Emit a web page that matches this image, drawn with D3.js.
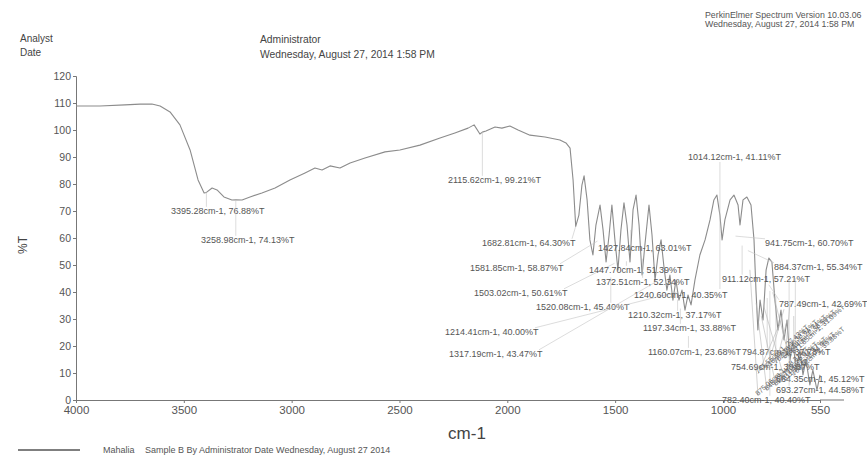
<!DOCTYPE html>
<html>
<head>
<meta charset="utf-8">
<script src="https://cdn.jsdelivr.net/npm/d3@7/dist/d3.min.js"></script>
<style>
  html, body { margin: 0; padding: 0; background: #fff; }
  svg { display: block; }
  text { font-family: "Liberation Sans", Arial, sans-serif; }
</style>
</head>
<body>
<svg id="chart" width="867" height="462"></svg>
<script>
// FTIR spectrum, wavenumber (cm-1) against transmittance (%T)
const wavenumber = [
  4000, 3889, 3773, 3703, 3648, 3610, 3564, 3518, 3471, 3434, 3406, 3395.28, 3369, 3346, 3314, 3277,
  3258.98, 3230, 3193, 3138, 3077, 3008, 2938, 2892, 2859, 2822, 2776, 2729, 2660, 2567, 2498, 2405,
  2312, 2243, 2182, 2154, 2127, 2115.62, 2099, 2057, 2025, 1988, 1950, 1895, 1825, 1756, 1728, 1709,
  1695, 1682.81, 1668, 1654, 1644, 1630, 1617, 1603, 1589, 1570, 1556, 1542, 1528, 1515, 1501, 1487,
  1473, 1459, 1445, 1431, 1417, 1403, 1389, 1375, 1362, 1343, 1329, 1315, 1301, 1287, 1273, 1260,
  1246, 1232, 1218, 1204, 1190, 1176, 1162, 1148, 1130, 1107, 1083, 1060, 1042, 1028, 1014.12, 1004,
  991, 967, 949, 930, 921, 907, 889, 870, 856, 847, 838, 828, 814, 800, 787, 773,
  759, 745, 731, 717, 703, 689, 675, 662, 643, 629, 615, 597, 583, 564, 550
];
const transmittance = [
  108.9, 108.9, 109.3, 109.6, 109.6, 108.9, 106.7, 101.9, 92.6, 81.5, 76.7, 76.88, 78.5, 77.8, 75.2, 74.1,
  74.13, 74.1, 75.2, 76.7, 78.5, 81.5, 84.1, 85.9, 85.2, 86.7, 85.9, 87.8, 89.6, 91.9, 92.6, 94.4,
  97.0, 98.9, 100.7, 101.9, 98.5, 99.21, 99.6, 101.1, 100.7, 101.5, 100.0, 98.1, 97.4, 96.3, 95.2, 93.3,
  81.5, 64.30, 68.5, 79.6, 83.0, 74.1, 59.3, 53.7, 64.8, 72.2, 63.0, 51.1, 61.1, 72.2, 59.3, 48.1,
  63.0, 73.0, 64.8, 51.1, 70.4, 75.9, 64.8, 46.3, 57.4, 72.2, 61.1, 44.4, 53.7, 59.3, 48.9, 40.7,
  46.3, 37.0, 44.4, 37.0, 40.7, 33.3, 38.9, 35.2, 44.4, 53.7, 59.3, 66.7, 74.1, 75.9, 68.5, 59.3,
  66.7, 74.1, 75.9, 72.2, 64.8, 74.1, 75.2, 72.2, 59.3, 40.7, 25.9, 37.0, 29.6, 48.1, 52.6, 51.1,
  37.0, 25.9, 33.3, 22.2, 29.6, 14.8, 22.2, 11.1, 18.5, 9.3, 14.8, 5.6, 11.1, 3.7, 9.3
];

// Peak table printed by the instrument software
const peakWn = [3395.28, 3258.98, 2115.62, 1682.81, 1581.85, 1503.02, 1520.08, 1214.41, 1317.19,
  1427.84, 1447.70, 1372.51, 1240.60, 1210.32, 1197.34, 1160.07, 1014.12, 941.75, 884.37, 911.12,
  787.49, 794.87, 754.69, 664.35, 693.27, 782.40];
const peakT = [76.88, 74.13, 99.21, 64.30, 58.87, 50.61, 45.40, 40.00, 43.47,
  63.01, 51.39, 52.34, 40.35, 37.17, 33.88, 23.68, 41.11, 60.70, 55.34, 57.21,
  42.69, 37.78, 38.37, 45.12, 44.58, 40.40];

// Dense, partly overlapping labels in the low-wavenumber cluster (drawn slanted)
const clusterWn = [875.06, 846.23, 822.71, 811.38, 769.02, 741.55, 716.90, 702.13, 688.44, 671.85];
const clusterT = [48.21, 36.02, 31.17, 34.95, 39.88, 27.43, 33.61, 29.74, 36.50, 31.09];

const yTicks = [0, 10, 20, 30, 40, 50, 60, 70, 80, 90, 100, 110, 120];
const xTicks = [4000, 3500, 3000, 2500, 2000, 1500, 1000, 550];

const headerLeft = ["Analyst", "Date"];
const headerMid = ["Administrator", "Wednesday, August 27, 2014 1:58 PM"];
const headerRight = ["PerkinElmer Spectrum Version 10.03.06", "Wednesday, August 27, 2014 1:58 PM"];
const legendName = "Mahalia";
const legendText = "Sample B By Administrator Date Wednesday, August 27 2014";

const svg = d3.select("#chart");
const x = d3.scaleLinear().domain([4000, 550]).range([76, 820]);
const y = d3.scaleLinear().domain([0, 120]).range([400, 76]);

const ink = "#555";

// Header block
svg.selectAll("text.hl").data(headerLeft).join("text")
  .attr("x", 20).attr("y", (d, i) => 42 + i * 14)
  .attr("font-size", 10).attr("fill", "#444").text(d => d);
svg.selectAll("text.hm").data(headerMid).join("text")
  .attr("x", 260).attr("y", (d, i) => 43 + i * 15)
  .attr("font-size", 10.3).attr("fill", "#444").text(d => d);
svg.selectAll("text.hr").data(headerRight).join("text")
  .attr("x", 705).attr("y", (d, i) => 18 + i * 8.5)
  .attr("font-size", 8.8).attr("fill", "#555").text(d => d);

// Axes
const yAxis = d3.axisLeft(y).tickValues(yTicks).tickSize(3).tickPadding(2);
const gy = svg.append("g").attr("transform", "translate(76,0)").call(yAxis);
gy.select(".domain").attr("stroke", "#777");
gy.selectAll(".tick line").attr("stroke", "#777");
gy.selectAll(".tick text").attr("font-size", 10.5).attr("fill", ink)
  .attr("font-family", "Liberation Sans, Arial, sans-serif");

const xAxis = d3.axisBottom(x).tickValues(xTicks).tickSize(3).tickPadding(3).tickFormat(d3.format("d"));
const gx = svg.append("g").attr("transform", "translate(0,400)").call(xAxis);
gx.select(".domain").attr("stroke", "#777");
gx.selectAll(".tick line").attr("stroke", "#777");
gx.selectAll(".tick text").attr("font-size", 11.5).attr("fill", ink)
  .attr("font-family", "Liberation Sans, Arial, sans-serif");
// baseline continues past the last labelled tick
svg.append("line").attr("x1", x(550)).attr("x2", x(550) + 24)
  .attr("y1", y(0)).attr("y2", y(0)).attr("stroke", "#777");

svg.append("text").attr("x", 467).attr("y", 439).attr("text-anchor", "middle")
  .attr("font-size", 17).attr("fill", "#444").text("cm-1");
svg.append("text").attr("transform", "translate(27,245) rotate(-90)")
  .attr("text-anchor", "middle").attr("font-size", 12).attr("fill", "#444").text("%T");

// Spectrum trace
const pts = wavenumber.map((w, i) => [w, transmittance[i]]);
svg.append("path").datum(pts)
  .attr("fill", "none").attr("stroke", "#8c8c8c").attr("stroke-width", 1.1)
  .attr("stroke-linejoin", "round")
  .attr("d", d3.line().x(d => x(d[0])).y(d => y(d[1])));

// Peak labels: placement of each label (left edge, baseline)
const labelAt = [
  [171, 214], [201, 243], [448, 183], [482, 246], [470, 271], [474, 296], [536, 310], [445, 335], [449, 357],
  [598, 251], [589, 273], [596, 285], [634, 298], [628, 318], [643, 331], [648, 355], [688, 160], [765, 246],
  [774, 270], [722, 282], [779, 307], [742, 355], [731, 370], [776, 382], [776, 393], [722, 403]
];
const fmt = d3.format(".2f");
const peaks = peakWn.map((w, i) => ({ w, t: peakT[i], at: labelAt[i] }));
const fs = 9;

const gl = svg.append("g");
peaks.forEach(p => {
  const px = x(p.w), py = y(p.t);
  const label = `${fmt(p.w)}cm-1, ${fmt(p.t)}%T`;
  const tw = label.length * fs * 0.5;
  const lx = px < p.at[0] ? p.at[0] : (px > p.at[0] + tw ? p.at[0] + tw : px);
  const ly = py < p.at[1] ? p.at[1] - fs * 0.8 : p.at[1] + 2;
  gl.append("line").attr("x1", lx).attr("y1", ly).attr("x2", px).attr("y2", py)
    .attr("stroke", "#c4c4c4").attr("stroke-width", 0.6);
  gl.append("text").attr("x", p.at[0]).attr("y", p.at[1])
    .attr("font-size", fs).attr("fill", ink).text(label);
});

// Slanted cluster labels
clusterWn.forEach((w, i) => {
  const px = x(w), py = y(clusterT[i]);
  const tx = 758 + (i % 5) * 9, ty = 396 - Math.floor(i / 5) * 22 - (i % 5) * 5;
  gl.append("line").attr("x1", tx).attr("y1", ty).attr("x2", px).attr("y2", py)
    .attr("stroke", "#b4b4b4").attr("stroke-width", 0.6);
  gl.append("text").attr("transform", `translate(${tx},${ty}) rotate(-42)`)
    .attr("font-size", 7).attr("fill", "#666").text(`${fmt(w)}cm-1, ${fmt(clusterT[i])}%T`);
});

// Legend
svg.append("line").attr("x1", 18).attr("x2", 80).attr("y1", 450).attr("y2", 450)
  .attr("stroke", "#555").attr("stroke-width", 1.4);
svg.append("text").attr("x", 103).attr("y", 453).attr("font-size", 9).attr("fill", "#555").text(legendName);
svg.append("text").attr("x", 145).attr("y", 453).attr("font-size", 9).attr("fill", "#555").text(legendText);
</script>
</body>
</html>
